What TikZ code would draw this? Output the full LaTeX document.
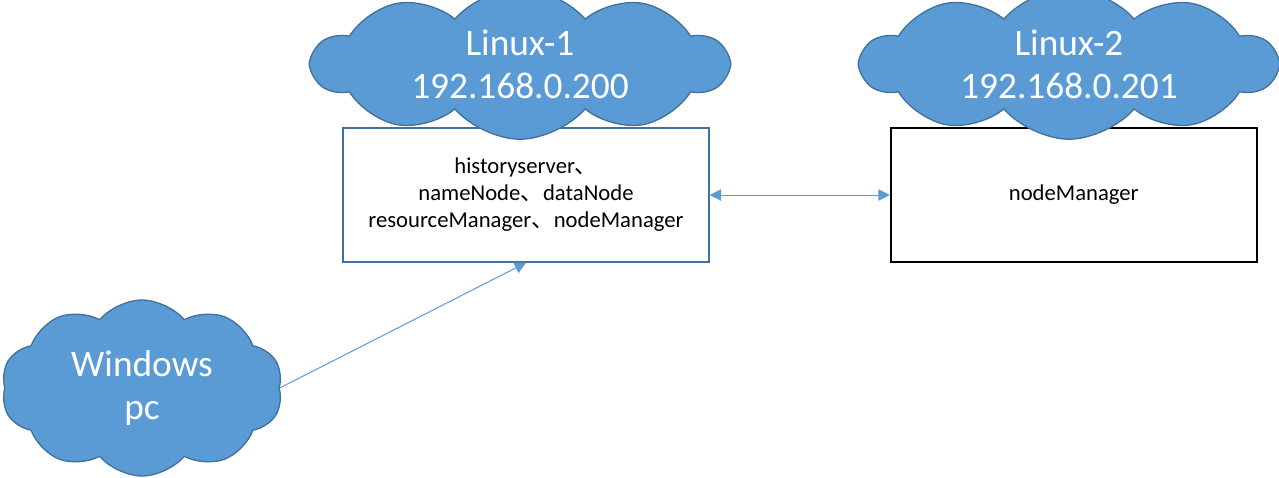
\documentclass[tikz,border=0pt]{standalone}
\usepackage{fontspec}
\setmainfont{Carlito}
\newfontfamily\cjk{Noto Sans CJK SC}
\usetikzlibrary{positioning, arrows.meta, shapes.symbols}
\tikzset{
    >={Triangle[length=8.5pt,width=8.5pt]}, % filled arrow heads
    cloudy/.style={cloud, cloud puffs=10, cloud puff arc=100, cloud ignores aspect,
        fill=cloudblue, draw=edgeblue, line width=1pt, text=white, align=center,
        font=\fontsize{28}{32}\selectfont},
    hostbox/.style={rectangle, minimum width=274.5pt, minimum height=100.5pt,
        align=center, font=\fontsize{17}{20.3}\selectfont},
    link/.style={<->, draw=cloudblue, line width=0.75pt}
}
\definecolor{cloudblue}{HTML}{5B9BD5}
\definecolor{edgeblue}{HTML}{41719C}
\newcommand{\dun}{{\cjk 、}}

\begin{document}
\begin{tikzpicture}[x=0.75pt,y=-0.75pt]
    \useasboundingbox (0,0) rectangle (1279,478);
    % hosts
    \node[hostbox, draw=edgeblue, line width=1.1pt] (master) at (526,195)
        {historyserver\dun\\nameNode\dun dataNode\\resourceManager\dun nodeManager};
    \node[hostbox, draw=black, line width=1.5pt] (worker) [right=135pt of master] {nodeManager};

    % clouds
    \node[cloudy, minimum width=311pt, minimum height=94.5pt] (linux1) at (520,64) {Linux-1\\192.168.0.200};
    \node[cloudy, minimum width=311pt, minimum height=94.5pt] (linux2) at (1069,64) {Linux-2\\192.168.0.201};
    \node[cloudy, minimum width=211pt, minimum height=132pt] (win) at (142,388) {Windows\\pc};

    \draw[link] (master) -- (worker);
    \draw[link, <-] (master.south) -- (win.east);
\end{tikzpicture}
\end{document}
